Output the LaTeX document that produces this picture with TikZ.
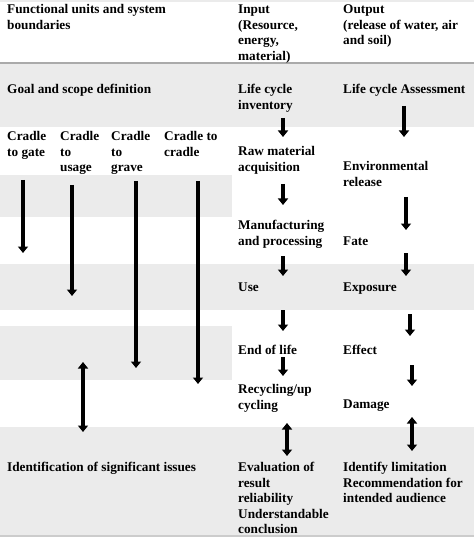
\documentclass[tikz,border=0pt]{standalone}
\usepackage{fontspec}
\setmainfont{Liberation Serif}
\usetikzlibrary{arrows.meta}
\definecolor{band}{RGB}{235,235,235}
\definecolor{rule}{RGB}{170,170,170}
\tikzset{
  txt/.style={anchor=base west, inner sep=0pt, align=left,
    font=\fontsize{13.3}{15.6}\selectfont\bfseries},
  arr/.style={line width=3.6bp, -{Triangle[width=10bp,length=6.5bp]}},
  darr/.style={line width=3.6bp, {Triangle[width=10bp,length=6.5bp]}-{Triangle[width=10bp,length=6.5bp]}},
}
\begin{document}
\begin{tikzpicture}[x=1bp,y=-1bp]
\useasboundingbox (0,0) rectangle (474,537);
% backgrounds
\fill[band] (0,0) rectangle (474,2);
\fill[rule] (0,62.5) rectangle (474,64);
\fill[band] (0,64) rectangle (474,127);
\fill[band] (0,175) rectangle (232,217);
\fill[band] (0,264) rectangle (474,310);
\fill[band] (0,326) rectangle (232,380);
\fill[band] (0,427) rectangle (474,535);
\fill[rule!60] (0,535) rectangle (474,537);
% (node positions give the baseline of the LAST line)
% header
\node[txt] (h1) at (7,29.1) {Functional units and system\\boundaries};
\node[txt] (h2) at (238,60.3) {Input\\(Resource,\\energy,\\material)};
\node[txt] (h3) at (343,44.7) {Output\\(release of water, air\\and soil)};
% row 2
\node[txt] (goal) at (7,93.5) {Goal and scope definition};
\node[txt] (lci) at (238,109.1) {Life cycle\\inventory};
\node[txt] (lca) at (343,93.5) {Life cycle Assessment};
% cradles
\node[txt] (c1) at (7,156.1) {Cradle\\to gate};
\node[txt] (c2) at (60,171.7) {Cradle\\to\\usage};
\node[txt] (c3) at (111,171.7) {Cradle\\to\\grave};
\node[txt] (c4) at (164,156.1) {Cradle to\\cradle};
% input column
\node[txt] (raw) at (238,171.1) {Raw material\\acquisition};
\node[txt] (man) at (238,245.1) {Manufacturing\\and processing};
\node[txt] (use) at (238,291.5) {Use};
\node[txt] (eol) at (238,354.5) {End of life};
\node[txt] (rec) at (238,409.1) {Recycling/up\\cycling};
\node[txt] (eva) at (238,533.9) {Evaluation of\\result\\reliability\\Understandable\\conclusion};
% output column
\node[txt] (env) at (343,186.1) {Environmental\\release};
\node[txt] (fate) at (343,245.5) {Fate};
\node[txt] (exp) at (343,291.5) {Exposure};
\node[txt] (eff) at (343,354.5) {Effect};
\node[txt] (dam) at (343,408.5) {Damage};
\node[txt] (idl) at (343,502.7) {Identify limitation\\Recommendation for\\intended audience};
% left bottom
\node[txt] (ide) at (7,471.5) {Identification of significant issues};
% arrow coordinates
\coordinate (i0a) at (283,118); \coordinate (i0b) at (283,137);
\coordinate (i1a) at (283,184); \coordinate (i1b) at (283,205);
\coordinate (i2a) at (283,256); \coordinate (i2b) at (283,276);
\coordinate (i3a) at (283,310); \coordinate (i3b) at (283,331);
\coordinate (i4a) at (283,357); \coordinate (i4b) at (283,376);
\coordinate (i5a) at (287,423); \coordinate (i5b) at (287,456);
\coordinate (o0a) at (404,106); \coordinate (o0b) at (404,137);
\coordinate (o1a) at (406,197); \coordinate (o1b) at (406,230);
\coordinate (o2a) at (406,253); \coordinate (o2b) at (406,276);
\coordinate (o3a) at (410,314); \coordinate (o3b) at (410,336);
\coordinate (o4a) at (412,365); \coordinate (o4b) at (412,386);
\coordinate (o5a) at (412,417); \coordinate (o5b) at (412,451);
\coordinate (l1a) at (23,180); \coordinate (l1b) at (23,253);
\coordinate (l2a) at (72,185); \coordinate (l2b) at (72,296);
\coordinate (l3a) at (136,181); \coordinate (l3b) at (136,368);
\coordinate (l4a) at (198,181); \coordinate (l4b) at (198,384);
\coordinate (l5a) at (83,362); \coordinate (l5b) at (83,432);
% arrows
\draw[arr] (i0a) -- (i0b);
\draw[arr] (i1a) -- (i1b);
\draw[arr] (i2a) -- (i2b);
\draw[arr] (i3a) -- (i3b);
\draw[arr] (i4a) -- (i4b);
\draw[darr] (i5a) -- (i5b);
\draw[arr] (o0a) -- (o0b);
\draw[arr] (o1a) -- (o1b);
\draw[arr] (o2a) -- (o2b);
\draw[arr] (o3a) -- (o3b);
\draw[arr] (o4a) -- (o4b);
\draw[darr] (o5a) -- (o5b);
\draw[arr] (l1a) -- (l1b);
\draw[arr] (l2a) -- (l2b);
\draw[arr] (l3a) -- (l3b);
\draw[arr] (l4a) -- (l4b);
\draw[darr] (l5a) -- (l5b);
\end{tikzpicture}
\end{document}
